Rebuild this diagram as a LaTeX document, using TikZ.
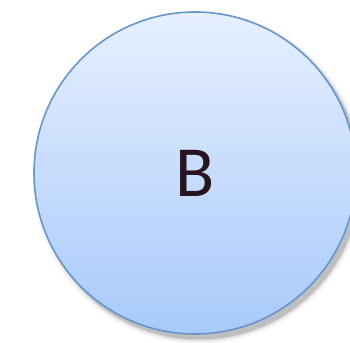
\documentclass[tikz,border=0pt]{standalone}
\usepackage{fontspec}
\newfontfamily\labelfont{Carlito}
\definecolor{topfill}{RGB}{230,239,254}
\definecolor{botfill}{RGB}{168,202,250}
\definecolor{rim}{RGB}{102,150,205}
\definecolor{glyph}{RGB}{40,20,30}
\tikzset{
  bubble/.style={circle, minimum size=322pt, inner sep=0pt, draw=rim, line width=1.6pt,
    top color=topfill, bottom color=botfill, text=glyph, font=\labelfont\fontsize{72}{72}\selectfont},
  shade/.style={fill=black}
}
\begin{document}
\begin{tikzpicture}[x=1pt,y=1pt]
\useasboundingbox (0,0) rectangle (350,-342);
\clip (0,0) rectangle (350,-342);
\foreach \r/\o in {166/0.03,164/0.05,162.5/0.08,161.5/0.12}{
  \fill[black,opacity=\o] (199,-178) circle (\r);
}
\node[bubble] (b) at (195,-173) {B};
\end{tikzpicture}
\end{document}
